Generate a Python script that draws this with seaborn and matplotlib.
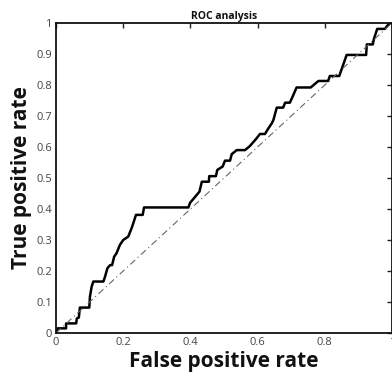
import matplotlib
matplotlib.use("Agg")
import matplotlib.pyplot as plt
import seaborn as sns
import pandas as pd

fpr = [0, 0.005, 0.030, 0.030, 0.060, 0.062, 0.068, 0.071, 0.099, 0.101, 0.106, 0.111,
       0.141, 0.146, 0.153, 0.161, 0.167, 0.173, 0.180, 0.186, 0.190, 0.200, 0.215, 0.225,
       0.230, 0.238, 0.258, 0.262, 0.394, 0.399, 0.410, 0.427, 0.434, 0.455, 0.456, 0.476,
       0.480, 0.496, 0.503, 0.518, 0.523, 0.538, 0.5625, 0.577, 0.597, 0.607, 0.622, 0.632,
       0.642, 0.647, 0.657, 0.676, 0.682, 0.696, 0.704, 0.716, 0.758, 0.781, 0.810, 0.815,
       0.843, 0.865, 0.923, 0.925, 0.943, 0.946, 0.956, 0.979, 0.985, 0.994, 1.0]
tpr = [0, 0.015, 0.015, 0.031, 0.031, 0.047, 0.050, 0.082, 0.082, 0.117, 0.149, 0.166,
       0.166, 0.182, 0.209, 0.219, 0.219, 0.246, 0.257, 0.273, 0.284, 0.300, 0.311, 0.338,
       0.354, 0.381, 0.381, 0.405, 0.405, 0.420, 0.434, 0.456, 0.488, 0.488, 0.506, 0.506,
       0.526, 0.537, 0.556, 0.556, 0.577, 0.590, 0.590, 0.603, 0.628, 0.642, 0.642, 0.660,
       0.676, 0.687, 0.727, 0.727, 0.743, 0.743, 0.762, 0.792, 0.792, 0.813, 0.813, 0.829,
       0.829, 0.897, 0.897, 0.931, 0.931, 0.948, 0.981, 0.981, 0.990, 1.0, 1.0]
chance_x = [0, 1]
chance_y = [0, 1]
xticks = [0, 0.2, 0.4, 0.6, 0.8, 1]
xticklabels = ["0", "0.2", "0.4", "0.6", "0.8", "1"]
yticks = [0, 0.1, 0.2, 0.3, 0.4, 0.5, 0.6, 0.7, 0.8, 0.9, 1]
yticklabels = ["0", "0.1", "0.2", "0.3", "0.4", "0.5", "0.6", "0.7", "0.8", "0.9", "1"]

sns.set_style("white")
plt.rcParams['font.family'] = ['Open Sans', 'DejaVu Sans']

fig = plt.figure(figsize=(3.92, 3.80), dpi=100)
ax = fig.add_axes([56/392, 47/380, 336/392, 310/380])

df = pd.DataFrame({"fpr": fpr, "tpr": tpr})
sns.lineplot(data=df, x="fpr", y="tpr", sort=False, estimator=None, color="black",
             linewidth=1.8, ax=ax)
sns.lineplot(x=chance_x, y=chance_y, sort=False, estimator=None, color="#666666",
             linewidth=0.8, linestyle=(0, (6, 3, 1, 3)), ax=ax)

ax.set_xlim(0, 1)
ax.set_ylim(0, 1)
ax.set_xticks(xticks)
ax.set_xticklabels(xticklabels)
ax.set_yticks(yticks)
ax.set_yticklabels(yticklabels)
ax.tick_params(direction="in", length=3.5, width=1, colors="#222222", labelcolor="#444444",
               labelsize=8, top=True, right=True, pad=3)
for s in ax.spines.values():
    s.set_visible(True)
    s.set_color("#111111")
    s.set_linewidth(1.3)

ax.set_xlabel("False positive rate", fontsize=15, fontweight="bold", color="#111111", labelpad=2)
ax.set_ylabel("True positive rate", fontsize=15, fontweight="bold", color="#111111", labelpad=3)
ax.set_title("ROC analysis", fontsize=7.5, fontweight="bold", color="#111111", pad=3)

fig.savefig("out.png", dpi=100)
